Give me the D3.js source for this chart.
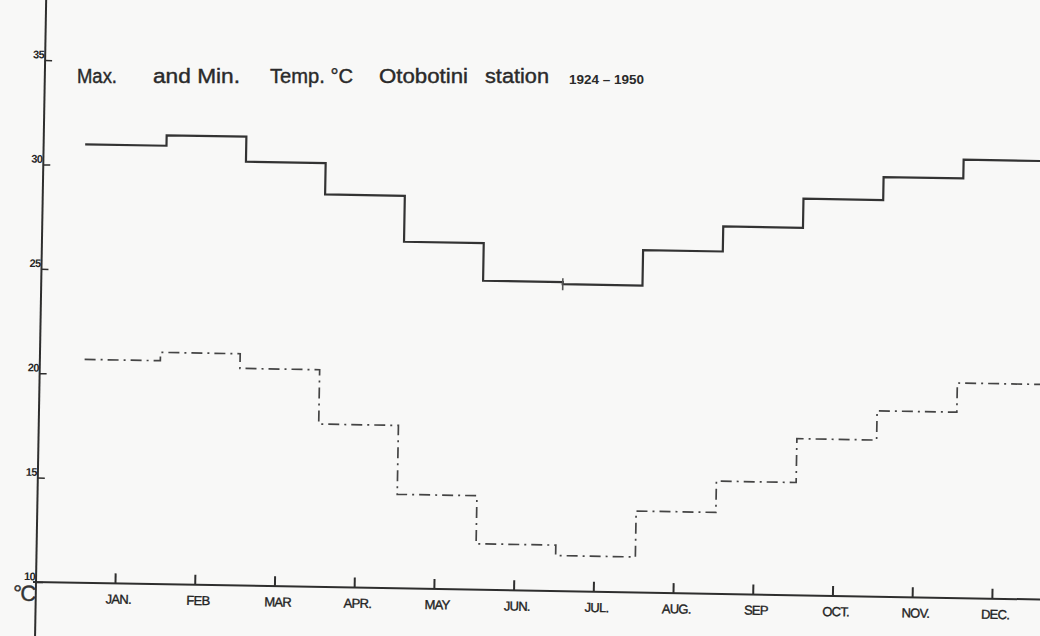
<!DOCTYPE html>
<html>
<head>
<meta charset="utf-8">
<script src="https://cdn.jsdelivr.net/npm/d3@7"></script>
<style>
  body { margin: 0; background: #f8f8f7; }
  svg { display: block; }
</style>
</head>
<body>
<div id="chart"></div>
<script>
// Max. and Min. Temp. °C, Otobotini station 1924-1950
var months = ['JAN.', 'FEB', 'MAR', 'APR.', 'MAY', 'JUN.', 'JUL.', 'AUG.', 'SEP', 'OCT.', 'NOV.', 'DEC.'];
var maxTemp = [31.0, 31.5, 30.3, 28.8, 26.6, 24.8, 24.7, 26.4, 27.6, 29.0, 30.1, 31.0];
var minTemp = [20.7, 21.1, 20.4, 17.8, 14.5, 12.2, 11.7, 13.9, 15.4, 17.5, 18.9, 20.3];
var yTicks = [10, 15, 20, 25, 30, 35];

var width = 1040, height = 636;
var ink = '#2e2e2e';
var font = 'Liberation Sans, Arial, sans-serif';

var svg = d3.select('#chart')
    .append('svg')
    .attr('width', width)
    .attr('height', height)
    .style('background', '#f8f8f7');

// the drawing sits about one degree clockwise on the page
var g = svg.append('g')
    .attr('transform', 'translate(36,582) rotate(1)');

var x = d3.scaleLinear().domain([0, 11]).range([79, 956]);
var y = d3.scaleLinear().domain([10, 35]).range([0, -522]);

// axis lines run past the tick range
g.append('line')
    .attr('x1', 0).attr('x2', 0)
    .attr('y1', 58).attr('y2', -595)
    .attr('stroke', ink).attr('stroke-width', 2);
g.append('line')
    .attr('x1', -3).attr('x2', 1030)
    .attr('y1', 0).attr('y2', 0)
    .attr('stroke', ink).attr('stroke-width', 2);

var gy = g.append('g')
    .call(d3.axisLeft(y).tickValues(yTicks).tickSizeInner(-7).tickSizeOuter(0).tickPadding(1));
gy.select('.domain').remove();
gy.selectAll('.tick line').attr('stroke', ink).attr('stroke-width', 1.5);
gy.selectAll('.tick text')
    .attr('dy', '-0.2em')
    .style('font-family', font)
    .style('font-size', '11px')
    .style('font-weight', 'bold')
    .style('letter-spacing', '-0.6px')
    .attr('fill', '#262626');

var gx = g.append('g')
    .call(d3.axisBottom(x).tickValues(d3.range(12))
        .tickFormat(function(i) { return months[i]; })
        .tickSizeInner(-10).tickSizeOuter(0).tickPadding(11));
gx.select('.domain').remove();
gx.selectAll('.tick line').attr('stroke', ink).attr('stroke-width', 2);
gx.selectAll('.tick text')
    .attr('dx', 3)
    .style('font-family', font)
    .style('font-size', '13px')
    .style('letter-spacing', '-0.7px')
    .attr('fill', '#222')
    .attr('stroke', '#222')
    .attr('stroke-width', 0.35);

// unit under the axis corner
g.append('text')
    .attr('x', -1).attr('y', 19)
    .attr('text-anchor', 'end')
    .style('font-family', font)
    .style('font-size', '22px')
    .style('letter-spacing', '-1.5px')
    .attr('fill', '#333')
    .attr('stroke', '#333')
    .attr('stroke-width', 0.4)
    .text('°C');

// step lines, one level per month
var step = d3.line()
    .x(function(d) { return x(d[0]); })
    .y(function(d) { return y(d[1]); })
    .curve(d3.curveStepAfter);

function stepPoints(values, start, shift) {
    var pts = [[start, values[0]]];
    values.slice(1).forEach(function(v, i) { pts.push([i + shift, v]); });
    pts.push([11.7, values[values.length - 1]]);
    return pts;
}

g.append('path')
    .datum(stepPoints(maxTemp, -0.47, 0.55))
    .attr('d', step)
    .attr('fill', 'none')
    .attr('stroke', '#333')
    .attr('stroke-width', 2.2);

// small mark where June meets July on the max line
g.append('line')
    .attr('x1', x(5.55)).attr('x2', x(5.55))
    .attr('y1', y(maxTemp[6]) - 6).attr('y2', y(maxTemp[6]) + 6)
    .attr('stroke', '#555').attr('stroke-width', 1.6);

g.append('path')
    .datum(stepPoints(minTemp, -0.43, 0.52))
    .attr('d', step)
    .attr('fill', 'none')
    .attr('stroke', '#444')
    .attr('stroke-width', 1.7)
    .attr('stroke-dasharray', '11,5,2,5');

// title, lettered level on the page
var title = [
    {t: 'Max.', x: 77, w: 40, size: 20},
    {t: 'and Min.', x: 153, w: 87, size: 20},
    {t: 'Temp. °C', x: 270, w: 83, size: 20},
    {t: 'Otobotini', x: 379, w: 89, size: 20},
    {t: 'station', x: 485, w: 64, size: 20},
    {t: '1924 – 1950', x: 569, w: 75, size: 13}
];
svg.selectAll('text.title')
    .data(title)
    .enter().append('text')
        .attr('class', 'title')
        .attr('x', function(d) { return d.x; })
        .attr('y', function(d) { return d.size > 15 ? 83 : 84; })
        .attr('textLength', function(d) { return d.w; })
        .attr('lengthAdjust', 'spacingAndGlyphs')
        .style('font-family', font)
        .style('font-size', function(d) { return d.size + 'px'; })
        .style('font-weight', function(d) { return d.size > 15 ? 'normal' : 'bold'; })
        .attr('fill', '#2a2a2a')
        .attr('stroke', '#2a2a2a')
        .attr('stroke-width', function(d) { return d.size > 15 ? 0.4 : 0; })
        .text(function(d) { return d.t; });
</script>
</body>
</html>
